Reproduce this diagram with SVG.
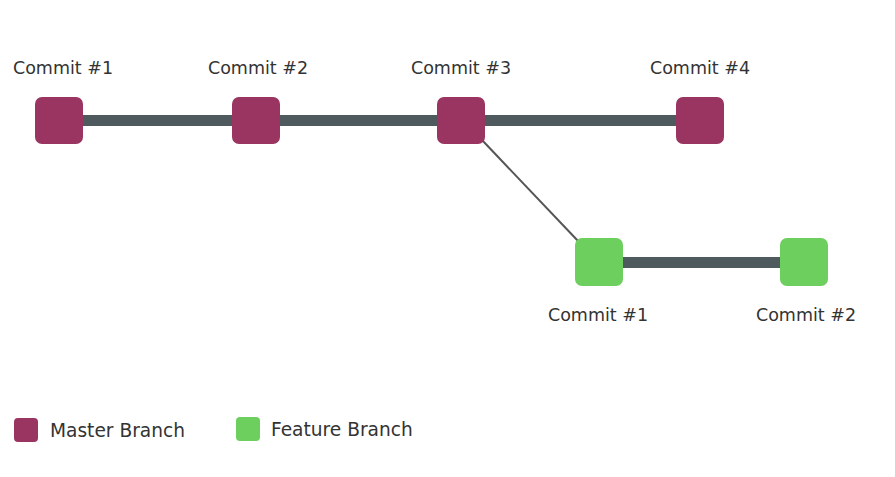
<svg xmlns="http://www.w3.org/2000/svg" width="895" height="477" viewBox="0 0 895 477">
  <style>
    .master { fill: #993560; }
    .feature { fill: #6dcf5d; }
    .label { font-family: "DejaVu Sans", "Noto Sans", sans-serif; font-size: 17.5px; fill: #333; }
    .key { font-size: 18.6px; }
    .mid { text-anchor: middle; }
    .trunk { stroke: #4f5a5f; stroke-width: 11; fill: none; }
    .fork { stroke: #555; stroke-width: 2; fill: none; }
  </style>
  <rect width="895" height="477" fill="#fff"/>

  <g id="connectors">
    <line class="trunk" x1="60" y1="120.5" x2="700" y2="120.5"/>
    <line class="trunk" x1="600" y1="262.5" x2="804" y2="262.5"/>
    <line class="fork" x1="482" y1="140" x2="579" y2="242"/>
  </g>

  <g id="master-commit-1">
    <rect class="master" x="35" y="97" width="48" height="47" rx="7"/>
    <text class="label mid" x="63" y="74">Commit #1</text>
  </g>
  <g id="master-commit-2">
    <rect class="master" x="232" y="97" width="48" height="47" rx="7"/>
    <text class="label mid" x="258" y="74">Commit #2</text>
  </g>
  <g id="master-commit-3">
    <rect class="master" x="437" y="97" width="48" height="47" rx="7"/>
    <text class="label mid" x="461" y="74">Commit #3</text>
  </g>
  <g id="master-commit-4">
    <rect class="master" x="676" y="97" width="48" height="47" rx="7"/>
    <text class="label mid" x="700" y="74">Commit #4</text>
  </g>
  <g id="feature-commit-1">
    <rect class="feature" x="575" y="238" width="48" height="48" rx="7"/>
    <text class="label mid" x="598" y="321">Commit #1</text>
  </g>
  <g id="feature-commit-2">
    <rect class="feature" x="780" y="238" width="48" height="48" rx="7"/>
    <text class="label mid" x="806" y="321">Commit #2</text>
  </g>

  <g id="legend-master">
    <rect class="master" x="14" y="418" width="24" height="24" rx="4"/>
    <text class="label key" x="50" y="437">Master Branch</text>
  </g>
  <g id="legend-feature">
    <rect class="feature" x="236" y="417" width="24" height="24" rx="4"/>
    <text class="label key" x="271" y="436">Feature Branch</text>
  </g>
</svg>
